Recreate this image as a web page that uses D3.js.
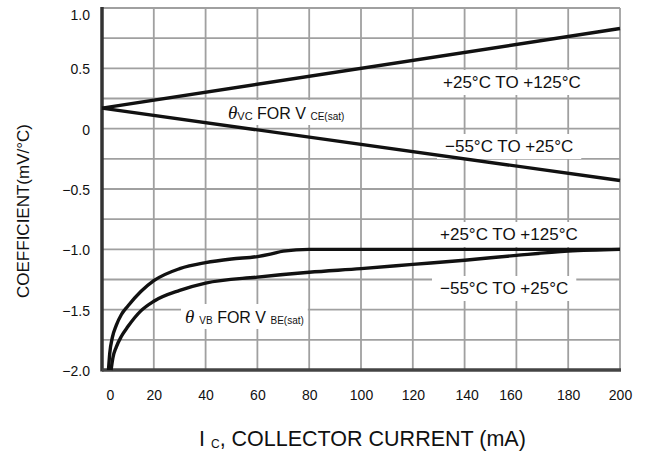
<!DOCTYPE html>
<html>
<head>
<meta charset="utf-8">
<script src="https://cdn.jsdelivr.net/npm/d3@7"></script>
<style>
  body { margin: 0; background: #fff; }
  svg text { font-family: "Liberation Sans", Arial, sans-serif; fill: #111; }
</style>
</head>
<body>
<div id="chart"></div>
<script>
// tick values
var xTicks = [0, 20, 40, 60, 80, 100, 120, 140, 160, 180, 200];
var yTicks = [1.0, 0.5, 0, -0.5, -1.0, -1.5, -2.0];
var yTickLabels = ["1.0", "0.5", "0", "\u22120.5", "\u22121.0", "\u22121.5", "\u22122.0"];
var yGrid = [1.0, 0.75, 0.5, 0.25, 0, -0.25, -0.5, -0.75, -1.0, -1.25, -1.5, -1.75, -2.0];

// theta VC for VCE(sat) (straight lines)
var vcHot = [[0, 0.17], [200, 0.83]];     // +25 to +125
var vcCold = [[0, 0.17], [200, -0.43]];   // -55 to +25

// theta VB for VBE(sat)
var vbHot = [[2.5, -2.0], [3, -1.86], [4, -1.73], [5.5, -1.63], [7.5, -1.54], [10, -1.47],
             [15, -1.35], [20, -1.26], [30, -1.16], [40, -1.11], [50, -1.08], [60, -1.06],
             [65, -1.04], [70, -1.015], [80, -1.0], [120, -1.0], [160, -1.0], [200, -1.0]];
var vbCold = [[3.5, -2.0], [4.2, -1.9], [5.5, -1.81], [7.5, -1.72], [10, -1.64], [15, -1.51],
              [20, -1.43], [30, -1.34], [40, -1.28], [60, -1.23], [80, -1.19], [100, -1.16],
              [120, -1.125], [140, -1.09], [160, -1.05], [180, -1.015], [200, -1.0]];

var w = 648, h = 461;
var mLeft = 102, mRight = 620, mTop = 8, mBottom = 370;

var svg = d3.select("#chart").append("svg")
    .attr("width", w)
    .attr("height", h);

var xScale = d3.scaleLinear().domain([0, 200]).range([mLeft, mRight]);
var yScale = d3.scaleLinear().domain([-2, 1]).range([mBottom, mTop]);

// grid
var grid = svg.append("g").attr("stroke", "#a0a0a0").attr("stroke-width", 1.8);
grid.selectAll("line.v").data(xTicks).enter().append("line")
    .attr("x1", function(d) { return xScale(d); })
    .attr("x2", function(d) { return xScale(d); })
    .attr("y1", mTop).attr("y2", mBottom);
grid.selectAll("line.h").data(yGrid).enter().append("line")
    .attr("y1", function(d) { return yScale(d); })
    .attr("y2", function(d) { return yScale(d); })
    .attr("x1", mLeft).attr("x2", mRight);

// white boxes where labels break the grid
var boxes = svg.append("g").attr("fill", "#fff");

// left and bottom frame
svg.append("line").attr("x1", mLeft).attr("x2", mLeft).attr("y1", mTop - 1).attr("y2", mBottom + 1.5)
    .attr("stroke", "#333").attr("stroke-width", 3.5);
svg.append("line").attr("x1", mLeft).attr("x2", mRight + 1).attr("y1", mBottom).attr("y2", mBottom)
    .attr("stroke", "#444").attr("stroke-width", 3.5);

// axes tick labels
var xAxis = d3.axisBottom(xScale).tickValues(xTicks).tickSize(0).tickPadding(0)
    .tickFormat(d3.format("d"));
var gx = svg.append("g").attr("transform", "translate(0," + (mBottom + 20) + ")").call(xAxis);
gx.select(".domain").remove();
gx.selectAll("text").attr("font-size", 14).attr("font-family", "Liberation Sans, Arial, sans-serif")
    .attr("fill", "#111").attr("dy", "0.72em")
    .attr("dx", function(d) { return d === 0 ? 8 : (d === 140 ? 2 : (d === 160 ? -6 : 0)); });

var yAxis = d3.axisLeft(yScale).tickValues(yTicks).tickSize(0).tickPadding(12)
    .tickFormat(function(d, i) { return yTickLabels[i]; });
var gy = svg.append("g").attr("transform", "translate(" + mLeft + ",0)").call(yAxis);
gy.select(".domain").remove();
gy.selectAll("text").attr("font-size", 14).attr("font-family", "Liberation Sans, Arial, sans-serif")
    .attr("fill", "#111")
    .attr("dy", function(d) { return d === 1 ? "0.85em" : "0.4em"; });

// curves
var line = d3.line()
    .x(function(d) { return xScale(d[0]); })
    .y(function(d) { return yScale(d[1]); });
var smooth = d3.line()
    .x(function(d) { return xScale(d[0]); })
    .y(function(d) { return yScale(d[1]); })
    .curve(d3.curveMonotoneX);

[vcHot, vcCold].forEach(function(s) {
    svg.append("path").attr("d", line(s)).attr("fill", "none")
        .attr("stroke", "#111").attr("stroke-width", 3.4);
});
[vbHot, vbCold].forEach(function(s) {
    svg.append("path").attr("d", smooth(s)).attr("fill", "none")
        .attr("stroke", "#111").attr("stroke-width", 3.4).attr("stroke-linejoin", "round");
});

// annotations
function note(x, y, str) {
    var t = svg.append("text").attr("x", x).attr("y", y).attr("font-size", 17).text(str);
    var b = t.node().getBBox();
    boxes.append("rect").attr("x", b.x - 8).attr("y", b.y - 3)
        .attr("width", b.width + 16).attr("height", b.height + 6);
    return t;
}
note(443, 88, "+25\u00b0C TO +125\u00b0C");
note(445, 152, "\u221255\u00b0C TO +25\u00b0C");
note(440, 240, "+25\u00b0C TO +125\u00b0C");
note(440, 294, "\u221255\u00b0C TO +25\u00b0C");

// theta labels
var tvc = svg.append("text").attr("x", 228).attr("y", 119);
tvc.append("tspan").attr("font-family", "Liberation Serif, serif").attr("font-style", "italic")
    .attr("font-size", 19).text("\u03b8");
tvc.append("tspan").attr("font-size", 11).attr("dy", 1).text("VC");
tvc.append("tspan").attr("font-size", 16).attr("dy", -1).text(" FOR V ");
tvc.append("tspan").attr("font-size", 10).attr("dy", 1).text("CE(sat)");

var tvb = svg.append("text").attr("x", 185).attr("y", 323);
tvb.append("tspan").attr("font-family", "Liberation Serif, serif").attr("font-style", "italic")
    .attr("font-size", 19).text("\u03b8");
tvb.append("tspan").attr("font-size", 10).attr("dx", 5).attr("dy", 1).text("VB");
tvb.append("tspan").attr("font-size", 16).attr("dy", -1).text(" FOR V ");
tvb.append("tspan").attr("font-size", 10).attr("dy", 1).text("BE(sat)");

[tvc, tvb].forEach(function(t) {
    var b = t.node().getBBox();
    boxes.append("rect").attr("x", b.x - 4).attr("y", b.y - 2)
        .attr("width", b.width + 8).attr("height", b.height + 4);
});

// axis titles
svg.append("text")
    .attr("transform", "translate(29,211) rotate(-90)")
    .attr("text-anchor", "middle")
    .attr("font-size", 17)
    .text("COEFFICIENT(mV/\u00b0C)");

var xt = svg.append("text").attr("x", 199).attr("y", 446).attr("font-size", 21.5);
xt.append("tspan").text("I ");
xt.append("tspan").attr("font-size", 12).attr("dy", 2).text("C");
xt.append("tspan").attr("dy", -2).text(", COLLECTOR CURRENT (mA)");
</script>
</body>
</html>
